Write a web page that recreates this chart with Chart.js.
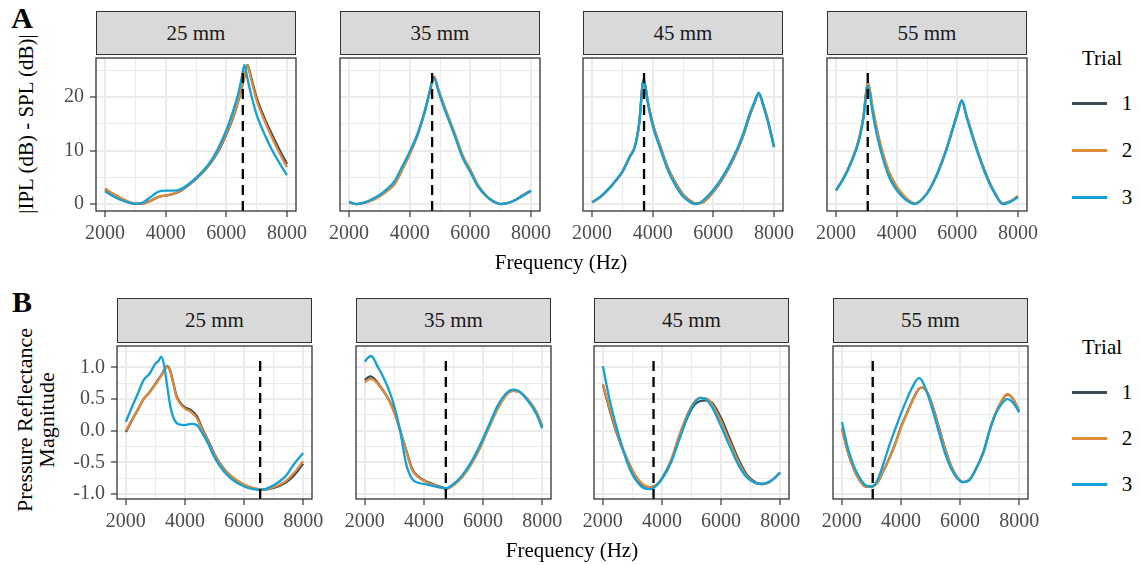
<!DOCTYPE html>
<html><head><meta charset="utf-8">
<script src="https://cdn.jsdelivr.net/npm/chart.js@4.4.1/dist/chart.umd.min.js"></script>
<style>
html,body{margin:0;padding:0;background:#fff;}
body{width:1140px;height:565px;position:relative;overflow:hidden;font-family:"Liberation Serif","DejaVu Serif",serif;color:#000;}
.t{position:absolute;white-space:nowrap;line-height:1;transform:translate(-50%,-50%);}
.rot{position:absolute;white-space:nowrap;text-align:center;transform:translate(-50%,-50%) rotate(-90deg);}
.strip{position:absolute;box-sizing:border-box;background:#d9d9d9;border:1.2px solid #333;display:flex;align-items:center;justify-content:center;font-size:21px;color:#1a1a1a;line-height:1;}
canvas{position:absolute;}
.key{position:absolute;height:3px;width:35px;}
</style></head><body>
<script>
// ---------- tick / label arrays ----------
const xMajor = [2000, 4000, 6000, 8000];
const xMinor = [3000, 5000, 7000];
const yMajorA = [0, 10, 20];
const yMinorA = [5, 15, 25];
const yMajorB = [-1, -0.5, 0, 0.5, 1];
const yMinorB = [-0.75, -0.25, 0.25, 0.75, 1.25];
const panelLabels = ['25 mm', '35 mm', '45 mm', '55 mm'];
const trialLabels = ['1', '2', '3'];
const trialColors = ['#3a4d56', '#e08a3c', '#12a2d6'];
const resonanceHz = [6545, 4740, 3715, 3045];

// ---------- Row A : |IPL - SPL| (dB) ----------
const fA1 = [2000,2250,2500,2750,3000,3250,3500,3750,4000,4250,4500,4750,5000,5250,5500,5750,6000,6200,6400,6500,6600,6700,6800,7000,7250,7500,7750,8000];
const a1t1 = [2.8,1.9,1.1,0.4,0.05,0.1,0.6,1.3,1.6,1.9,2.5,3.5,4.7,6.1,7.8,10.0,13.0,15.8,19.3,21.6,23.7,26.0,24.1,19.9,16.2,13.1,10.2,7.5];
const a1t2 = [2.9,2.0,1.2,0.5,0.1,0.1,0.6,1.3,1.6,1.9,2.6,3.6,4.8,6.2,7.9,10.2,13.2,16.0,19.5,21.8,23.9,25.9,23.8,19.4,15.7,12.5,9.6,6.9];
const a1t3 = [2.4,1.5,0.8,0.3,0.05,0.3,1.3,2.3,2.5,2.5,2.8,3.7,4.9,6.3,8.1,10.6,13.8,17.0,20.8,23.4,26.0,23.4,20.9,16.7,13.2,10.2,7.7,5.4];

const fA2 = [2000,2250,2500,2750,3000,3250,3500,3750,4000,4250,4500,4650,4800,4950,5100,5300,5500,5750,6000,6250,6500,6750,7000,7250,7500,7750,8000];
const a2t1 = [0.3,0.0,0.2,0.7,1.5,2.5,3.9,6.5,9.4,12.8,17.3,20.7,23.8,21.3,18.8,15.8,12.8,8.9,6.3,3.5,1.7,0.5,0.0,0.2,0.8,1.7,2.5];
const a2t2 = [0.3,0.0,0.2,0.7,1.4,2.4,3.7,6.3,9.3,12.7,17.2,20.6,23.8,21.4,19.0,16.0,13.0,9.1,6.4,3.6,1.8,0.6,0.0,0.2,0.8,1.6,2.4];
const a2t3 = [0.4,0.0,0.3,0.9,1.7,2.8,4.3,7.0,9.8,13.0,17.5,20.8,23.6,21.0,18.5,15.5,12.5,8.6,6.0,3.3,1.6,0.5,0.0,0.2,0.8,1.6,2.5];

const fA3 = [2000,2250,2500,2750,3000,3250,3400,3550,3700,3850,4000,4250,4500,4750,5000,5250,5400,5600,5900,6200,6500,6800,7000,7200,7350,7500,7650,7800,8000];
const a3t1 = [0.3,1.2,2.5,4.1,6.0,8.9,10.5,14.8,23.3,18.9,15.1,10.8,6.8,4.0,1.8,0.6,0.1,0.2,1.6,3.8,6.6,10.1,13.0,16.5,18.7,20.6,18.6,15.7,10.8];
const a3t2 = [0.3,1.2,2.5,4.1,6.0,8.9,10.5,14.8,23.2,18.8,15.0,10.7,6.7,3.9,1.7,0.5,0.1,0.2,1.7,3.9,6.7,10.2,13.1,16.6,18.8,20.7,18.5,15.6,10.7];
const a3t3 = [0.4,1.3,2.6,4.2,6.1,9.0,10.6,15.0,23.3,18.5,14.6,10.3,6.3,3.5,1.4,0.3,0.0,0.4,2.0,4.2,7.0,10.5,13.4,16.9,19.0,20.8,18.3,15.4,10.6];

const fA4 = [2000,2250,2500,2750,2900,3050,3200,3350,3500,3750,4000,4250,4600,5000,5300,5600,5850,6000,6150,6300,6500,6750,7000,7250,7500,7750,8000];
const a4t1 = [2.6,4.9,7.9,12.0,16.2,22.5,18.0,13.7,10.2,5.8,3.1,1.4,0.1,2.0,5.1,9.5,14.0,16.8,19.3,16.6,12.9,8.6,4.9,2.0,0.1,0.5,1.4];
const a4t2 = [2.6,4.9,7.9,12.0,16.3,22.8,18.3,14.0,10.5,6.0,3.3,1.5,0.1,2.0,5.1,9.5,14.0,16.8,19.3,16.6,12.9,8.6,4.9,2.0,0.1,0.5,1.5];
const a4t3 = [2.5,4.8,7.8,11.8,16.0,22.2,17.2,12.8,9.4,5.0,2.6,1.0,0.0,2.0,5.2,9.6,14.2,17.0,19.4,16.4,12.6,8.3,4.6,1.8,0.0,0.4,1.3];

// ---------- Row B : pressure reflectance magnitude ----------
const fB1 = [2000,2200,2400,2600,2800,3000,3100,3200,3300,3400,3500,3600,3700,3800,4000,4200,4400,4600,4800,5000,5300,5600,6000,6300,6600,7000,7400,7700,8000];
const b1t1 = [-0.02,0.16,0.33,0.5,0.61,0.74,0.81,0.88,0.96,1.02,0.95,0.77,0.57,0.47,0.37,0.33,0.23,0.02,-0.17,-0.37,-0.59,-0.73,-0.86,-0.91,-0.93,-0.9,-0.82,-0.7,-0.52];
const b1t2 = [0.0,0.17,0.33,0.5,0.6,0.73,0.8,0.87,0.95,1.01,0.93,0.75,0.55,0.45,0.35,0.3,0.2,0.0,-0.19,-0.38,-0.6,-0.73,-0.85,-0.9,-0.93,-0.89,-0.8,-0.66,-0.48];
const b1t3 = [0.14,0.37,0.58,0.8,0.9,1.06,1.1,1.17,1.02,0.7,0.4,0.22,0.13,0.1,0.09,0.11,0.09,-0.05,-0.22,-0.42,-0.63,-0.77,-0.88,-0.92,-0.93,-0.86,-0.72,-0.52,-0.35];

const fB2 = [2000,2100,2200,2300,2400,2600,2800,3000,3200,3400,3600,3800,4000,4300,4600,4750,5000,5300,5600,5900,6200,6500,6800,7000,7200,7500,7800,8000];
const b2t1 = [0.8,0.84,0.86,0.83,0.78,0.65,0.5,0.3,0.0,-0.31,-0.6,-0.72,-0.78,-0.84,-0.89,-0.91,-0.85,-0.72,-0.52,-0.26,0.06,0.36,0.58,0.63,0.62,0.5,0.3,0.07];
const b2t2 = [0.76,0.8,0.82,0.8,0.76,0.64,0.5,0.27,0.0,-0.32,-0.62,-0.73,-0.79,-0.85,-0.9,-0.92,-0.86,-0.73,-0.53,-0.27,0.05,0.35,0.57,0.63,0.62,0.5,0.3,0.09];
const b2t3 = [1.09,1.15,1.18,1.14,1.04,0.87,0.66,0.38,-0.02,-0.53,-0.76,-0.82,-0.84,-0.87,-0.9,-0.91,-0.84,-0.7,-0.49,-0.22,0.09,0.4,0.6,0.65,0.63,0.48,0.27,0.04];

const fB3 = [2000,2200,2400,2600,2800,3000,3200,3400,3600,3800,4000,4300,4600,4900,5100,5300,5500,5700,6000,6300,6600,6900,7200,7400,7600,7800,8000];
const b3t1 = [0.73,0.38,0.06,-0.21,-0.43,-0.63,-0.78,-0.87,-0.89,-0.86,-0.76,-0.5,-0.1,0.25,0.41,0.47,0.48,0.44,0.2,-0.13,-0.46,-0.71,-0.82,-0.84,-0.82,-0.75,-0.66];
const b3t2 = [0.73,0.4,0.08,-0.2,-0.42,-0.62,-0.77,-0.86,-0.89,-0.86,-0.75,-0.47,-0.05,0.3,0.46,0.52,0.51,0.42,0.15,-0.18,-0.5,-0.73,-0.83,-0.84,-0.82,-0.75,-0.66];
const b3t3 = [1.02,0.55,0.16,-0.17,-0.47,-0.69,-0.83,-0.91,-0.92,-0.87,-0.75,-0.5,-0.12,0.27,0.44,0.52,0.49,0.37,0.07,-0.25,-0.55,-0.75,-0.83,-0.84,-0.81,-0.75,-0.66];

const fB4 = [2000,2200,2400,2600,2800,3000,3200,3400,3600,3800,4000,4200,4400,4600,4700,4900,5100,5300,5500,5700,5900,6100,6300,6500,6800,7000,7200,7400,7600,7800,8000];
const b4t1 = [0.04,-0.33,-0.6,-0.78,-0.88,-0.88,-0.82,-0.64,-0.44,-0.21,0.06,0.28,0.49,0.66,0.68,0.6,0.35,0.03,-0.29,-0.56,-0.73,-0.81,-0.78,-0.64,-0.33,0.0,0.27,0.46,0.57,0.5,0.31];
const b4t2 = [0.04,-0.33,-0.6,-0.78,-0.88,-0.88,-0.82,-0.63,-0.44,-0.22,0.05,0.27,0.48,0.66,0.68,0.6,0.34,0.02,-0.3,-0.56,-0.73,-0.81,-0.78,-0.64,-0.32,0.0,0.28,0.47,0.58,0.5,0.3];
const b4t3 = [0.14,-0.27,-0.55,-0.74,-0.86,-0.88,-0.78,-0.53,-0.24,0.02,0.27,0.5,0.7,0.83,0.8,0.58,0.28,-0.05,-0.37,-0.6,-0.75,-0.81,-0.79,-0.64,-0.32,0.01,0.26,0.42,0.5,0.44,0.29];

// ---------- layout ----------
const PT = 14, PR = 25, W = 50, H = 40;
const rowA = {stripTop: 11, plotTop: 54, plotBottom: 211, lefts: [96, 340, 583, 827], width: 200,
  yRange: [-1.3, 27.3], vTop: 25.6, yMajor: yMajorA, yMinor: yMinorA, fmt: v => String(v)};
const rowB = {stripTop: 298, plotTop: 342, plotBottom: 499, lefts: [117, 356, 594, 833], width: 195,
  yRange: [-1.077, 1.338], vTop: 1.19, yMajor: yMajorB, yMinor: yMinorB, fmt: v => v.toFixed(1)};

const borderPlugin = {
  id: 'panelBorder',
  afterDraw(chart) {
    const a = chart.chartArea, c = chart.ctx;
    c.save(); c.strokeStyle = '#333'; c.lineWidth = 1.3;
    c.strokeRect(a.left, a.top, a.right - a.left, a.bottom - a.top);
    c.restore();
  }
};

function text(str, cx, cy, size, extra) {
  const d = document.createElement('div');
  d.className = 't'; d.textContent = str;
  d.style.left = cx + 'px'; d.style.top = cy + 'px'; d.style.fontSize = size + 'px';
  if (extra) Object.assign(d.style, extra);
  document.body.appendChild(d);
  return d;
}

function panel(row, idx, freq, series) {
  const left = row.lefts[idx], pw = row.width, ph = row.plotBottom - row.plotTop;
  const strip = document.createElement('div');
  strip.className = 'strip'; strip.textContent = panelLabels[idx];
  Object.assign(strip.style, {left: left + 'px', top: row.stripTop + 'px', width: pw + 'px', height: (row.plotTop - row.stripTop + 1) + 'px'});
  document.body.appendChild(strip);

  const cv = document.createElement('canvas');
  cv.width = W + pw + PR; cv.height = PT + ph + H;
  Object.assign(cv.style, {left: (left - W) + 'px', top: (row.plotTop - PT) + 'px', width: cv.width + 'px', height: cv.height + 'px'});
  document.body.appendChild(cv);

  const showY = idx === 0;
  const ds = series.map((vals, k) => ({
    label: 'Trial ' + trialLabels[k],
    data: freq.map((f, j) => ({x: f, y: vals[j]})),
    borderColor: trialColors[k], borderWidth: 2.3, pointRadius: 0,
    cubicInterpolationMode: 'monotone', fill: false, order: 3 - k, borderJoinStyle: 'round'
  }));
  ds.push({label: 'resonance', data: [{x: resonanceHz[idx], y: row.yRange[0]}, {x: resonanceHz[idx], y: row.vTop}],
    borderColor: '#000', borderWidth: 2.3, borderDash: [10, 6], pointRadius: 0, order: 0});

  const xAll = [...xMajor, ...xMinor].sort((a, b) => a - b);
  const yAll = [...row.yMajor, ...row.yMinor].sort((a, b) => a - b);
  const tickFont = {family: 'Liberation Serif', size: 20};

  new Chart(cv, {
    type: 'line',
    data: {datasets: ds},
    plugins: [borderPlugin],
    options: {
      responsive: false, animation: false, devicePixelRatio: 1,
      layout: {padding: {top: PT, right: PR, left: 0, bottom: 0}},
      plugins: {legend: {display: false}, tooltip: {enabled: false}},
      scales: {
        x: {
          type: 'linear', min: 1700, max: 8300,
          afterBuildTicks: s => { s.ticks = xAll.map(v => ({value: v})); },
          afterFit: s => { s.height = H; },
          border: {display: false},
          grid: {color: '#ebebeb', lineWidth: c => xMajor.includes(c.tick && c.tick.value) ? 2 : 1,
                 tickLength: 6, tickWidth: 1.2,
                 tickColor: c => xMajor.includes(c.tick && c.tick.value) ? '#333' : 'rgba(0,0,0,0)'},
          ticks: {autoSkip: false, maxRotation: 0, padding: 5, color: '#4d4d4d', font: tickFont,
                  callback: v => xMajor.includes(v) ? String(v) : ''}
        },
        y: {
          type: 'linear', min: row.yRange[0], max: row.yRange[1],
          afterBuildTicks: s => { s.ticks = yAll.map(v => ({value: v})); },
          afterFit: s => { s.width = W; },
          border: {display: false},
          grid: {color: '#ebebeb', lineWidth: c => row.yMajor.includes(c.tick && c.tick.value) ? 2 : 1,
                 tickLength: 6, tickWidth: 1.2,
                 tickColor: c => (showY && row.yMajor.includes(c.tick && c.tick.value)) ? '#333' : 'rgba(0,0,0,0)'},
          ticks: {autoSkip: false, padding: 6, color: '#4d4d4d', font: tickFont,
                  callback: v => (showY && row.yMajor.includes(v)) ? row.fmt(v) : ''}
        }
      }
    }
  });
}

panel(rowA, 0, fA1, [a1t1, a1t2, a1t3]);
panel(rowA, 1, fA2, [a2t1, a2t2, a2t3]);
panel(rowA, 2, fA3, [a3t1, a3t2, a3t3]);
panel(rowA, 3, fA4, [a4t1, a4t2, a4t3]);
panel(rowB, 0, fB1, [b1t1, b1t2, b1t3]);
panel(rowB, 1, fB2, [b2t1, b2t2, b2t3]);
panel(rowB, 2, fB3, [b3t1, b3t2, b3t3]);
panel(rowB, 3, fB4, [b4t1, b4t2, b4t3]);

// ---------- titles ----------
text('A', 22, 18, 30, {fontWeight: 'bold'});
text('B', 22, 302, 30, {fontWeight: 'bold'});
text('Frequency (Hz)', 561, 262, 21);
text('Frequency (Hz)', 572, 550, 21);

const ya = document.createElement('div');
ya.className = 'rot'; ya.textContent = '|IPL (dB) - SPL (dB)|';
Object.assign(ya.style, {left: '26px', top: '124px', fontSize: '21px', lineHeight: '1'});
document.body.appendChild(ya);

const yb = document.createElement('div');
yb.className = 'rot'; yb.innerHTML = 'Pressure Reflectance<br>Magnitude';
Object.assign(yb.style, {left: '36px', top: '420px', fontSize: '22px', lineHeight: '22px'});
document.body.appendChild(yb);

// ---------- legends ----------
function legend(titleY, keyYs) {
  text('Trial', 1102, titleY, 21);
  keyYs.forEach((y, k) => {
    const key = document.createElement('div');
    key.className = 'key';
    Object.assign(key.style, {left: '1072px', top: (y - 1.5) + 'px', background: trialColors[k]});
    document.body.appendChild(key);
    text(trialLabels[k], 1127, y, 21);
  });
}
legend(58, [103, 150, 197]);
legend(347, [392, 438, 484]);
</script>
</body></html>
